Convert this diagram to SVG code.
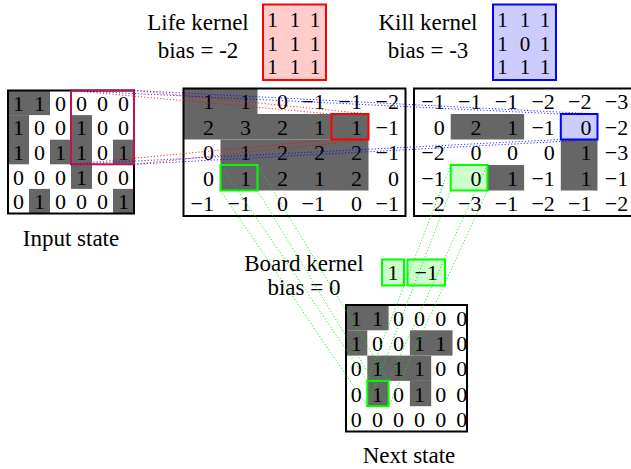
<svg xmlns="http://www.w3.org/2000/svg" width="631" height="469" viewBox="0 0 631 469" font-family="'Liberation Serif', 'DejaVu Serif', 'Times New Roman', serif">
<style>
text{font-family:'Liberation Serif','DejaVu Serif','Times New Roman',serif;fill:#000}
.lbl{font-size:23px;text-anchor:middle}
.d{font-size:22px}
.c{text-anchor:middle}
.e{text-anchor:end}
.k{font-size:21px;text-anchor:middle}
.g{fill:#666}
.box{fill:none;stroke:#000;stroke-width:2}
.red{stroke:#f00;stroke-width:2;fill:none}
.blue{stroke:#00f;stroke-width:2;fill:none}
.grn{stroke:#0f0;stroke-width:2;fill:none}
.lr{stroke:#f00;stroke-width:1;stroke-dasharray:1.2 2;opacity:.8}
.lb{stroke:#00f;stroke-width:1;stroke-dasharray:1.2 2;opacity:.8}
.lg{stroke:#0e0;stroke-width:1;stroke-dasharray:1.2 2;opacity:.85}
</style>

<g id="life-kernel">
<text class="lbl" x="198" y="30">Life kernel</text>
<text class="lbl" x="198" y="58">bias = -2</text>
<rect x="263" y="4.5" width="63" height="75.5" fill="#ffcccc" stroke="#f00" stroke-width="2"/>
<text class="k" x="272.5" y="27">1</text><text class="k" x="295" y="27">1</text><text class="k" x="315" y="27">1</text>
<text class="k" x="272.5" y="50.5">1</text><text class="k" x="295" y="50.5">1</text><text class="k" x="315" y="50.5">1</text>
<text class="k" x="272.5" y="74">1</text><text class="k" x="295" y="74">1</text><text class="k" x="315" y="74">1</text>
</g>

<g id="kill-kernel">
<text class="lbl" x="428" y="30">Kill kernel</text>
<text class="lbl" x="428" y="58">bias = -3</text>
<rect x="493" y="4.5" width="63" height="75.5" fill="#ccccff" stroke="#00f" stroke-width="2"/>
<text class="k" x="502.5" y="27">1</text><text class="k" x="525" y="27">1</text><text class="k" x="545" y="27">1</text>
<text class="k" x="502.5" y="50.5">1</text><text class="k" x="525" y="50.5">0</text><text class="k" x="545" y="50.5">1</text>
<text class="k" x="502.5" y="74">1</text><text class="k" x="525" y="74">1</text><text class="k" x="545" y="74">1</text>
</g>

<g id="input-state">
<rect class="g" x="8" y="90.5" width="42" height="24.6"/>
<rect class="g" x="8" y="115.1" width="21" height="49.2"/>
<rect class="g" x="71" y="115.1" width="21" height="73.8"/>
<rect class="g" x="50" y="139.7" width="21" height="24.6"/>
<rect class="g" x="113" y="139.7" width="21" height="24.6"/>
<rect class="g" x="29" y="188.9" width="21" height="24.6"/>
<rect class="g" x="113" y="188.9" width="21" height="24.6"/>
<g class="d c">
<text x="18.5" y="110.8">1</text><text x="39.5" y="110.8">1</text><text x="60.5" y="110.8">0</text><text x="81.5" y="110.8">0</text><text x="102.5" y="110.8">0</text><text x="123.5" y="110.8">0</text>
<text x="18.5" y="135.4">1</text><text x="39.5" y="135.4">0</text><text x="60.5" y="135.4">0</text><text x="81.5" y="135.4">1</text><text x="102.5" y="135.4">0</text><text x="123.5" y="135.4">0</text>
<text x="18.5" y="160">1</text><text x="39.5" y="160">0</text><text x="60.5" y="160">1</text><text x="81.5" y="160">1</text><text x="102.5" y="160">0</text><text x="123.5" y="160">1</text>
<text x="18.5" y="184.6">0</text><text x="39.5" y="184.6">0</text><text x="60.5" y="184.6">0</text><text x="81.5" y="184.6">1</text><text x="102.5" y="184.6">0</text><text x="123.5" y="184.6">0</text>
<text x="18.5" y="209.2">0</text><text x="39.5" y="209.2">1</text><text x="60.5" y="209.2">0</text><text x="81.5" y="209.2">0</text><text x="102.5" y="209.2">0</text><text x="123.5" y="209.2">1</text>
</g>
<rect class="box" x="8" y="90.5" width="126" height="123"/>
<rect x="71" y="90.5" width="63" height="73.8" fill="none" stroke="#c4124c" stroke-width="2"/>
<text class="lbl" x="71" y="246">Input state</text>
</g>

<g id="life-map">
<rect class="g" x="183.5" y="88.5" width="74" height="25.5"/>
<rect class="g" x="183.5" y="114" width="185" height="25.5"/>
<rect class="g" x="220.5" y="139.5" width="148" height="51"/>
<g class="d e">
<text x="214" y="109.25">1</text><text x="251" y="109.25">1</text><text x="288" y="109.25">0</text><text x="325" y="109.25">−1</text><text x="362" y="109.25">−1</text><text x="399" y="109.25">−2</text>
<text x="214" y="134.75">2</text><text x="251" y="134.75">3</text><text x="288" y="134.75">2</text><text x="325" y="134.75">1</text><text x="362" y="134.75">1</text><text x="399" y="134.75">−1</text>
<text x="214" y="160.25">0</text><text x="251" y="160.25">1</text><text x="288" y="160.25">2</text><text x="325" y="160.25">2</text><text x="362" y="160.25">2</text><text x="399" y="160.25">−1</text>
<text x="214" y="185.75">0</text><text x="251" y="185.75">1</text><text x="288" y="185.75">2</text><text x="325" y="185.75">1</text><text x="362" y="185.75">2</text><text x="399" y="185.75">0</text>
<text x="214" y="211.25">−1</text><text x="251" y="211.25">−1</text><text x="288" y="211.25">0</text><text x="325" y="211.25">−1</text><text x="362" y="211.25">0</text><text x="399" y="211.25">−1</text>
</g>
<rect class="box" x="183.5" y="88.5" width="222" height="127.5"/>
<rect class="red" x="331.5" y="114" width="37" height="25.5"/>
<rect class="grn" x="220.5" y="165" width="37" height="25.5"/>
</g>

<g id="kill-map">
<rect class="g" x="450.7" y="114" width="73.4" height="25.5"/>
<rect class="g" x="560.8" y="139.5" width="36.7" height="51"/>
<rect class="g" x="487.4" y="165" width="36.7" height="25.5"/>
<rect x="560.8" y="114" width="36.7" height="25.5" fill="#ccccff"/>
<rect x="450.7" y="165" width="36.7" height="25.5" fill="#ccffcc"/>
<g class="d e">
<text x="444.7" y="109.25">−1</text><text x="481.4" y="109.25">−1</text><text x="518.1" y="109.25">−1</text><text x="554.8" y="109.25">−2</text><text x="591.5" y="109.25">−2</text><text x="628.2" y="109.25">−3</text>
<text x="444.7" y="134.75">0</text><text x="481.4" y="134.75">2</text><text x="518.1" y="134.75">1</text><text x="554.8" y="134.75">−1</text><text x="591.5" y="134.75">0</text><text x="628.2" y="134.75">−2</text>
<text x="444.7" y="160.25">−2</text><text x="481.4" y="160.25">0</text><text x="518.1" y="160.25">0</text><text x="554.8" y="160.25">0</text><text x="591.5" y="160.25">1</text><text x="628.2" y="160.25">−3</text>
<text x="444.7" y="185.75">−1</text><text x="481.4" y="185.75">0</text><text x="518.1" y="185.75">1</text><text x="554.8" y="185.75">−1</text><text x="591.5" y="185.75">1</text><text x="628.2" y="185.75">−1</text>
<text x="444.7" y="211.25">−2</text><text x="481.4" y="211.25">−3</text><text x="518.1" y="211.25">−1</text><text x="554.8" y="211.25">−2</text><text x="591.5" y="211.25">−1</text><text x="628.2" y="211.25">−2</text>
</g>
<rect class="box" x="414" y="88.5" width="222" height="127.5"/>
<rect class="blue" x="560.8" y="114" width="36.7" height="25.5"/>
<rect class="grn" x="450.7" y="165" width="36.7" height="25.5"/>
</g>

<g id="board-kernel">
<text class="lbl" x="304" y="270.5">Board kernel</text>
<text class="lbl" x="304" y="295">bias = 0</text>
<rect x="382" y="259.5" width="22" height="26" fill="#ccffcc" stroke="#0f0" stroke-width="2"/>
<rect x="407.5" y="259.5" width="37.5" height="26" fill="#ccffcc" stroke="#0f0" stroke-width="2"/>
<text class="d c" x="393" y="280">1</text>
<text class="d c" x="426.2" y="280">−1</text>
</g>

<g id="next-state">
<rect class="g" x="346" y="305" width="42.6" height="25.3"/>
<rect class="g" x="346" y="330.3" width="21.3" height="25.3"/>
<rect class="g" x="409.9" y="330.3" width="42.6" height="25.3"/>
<rect class="g" x="367.3" y="355.6" width="63.9" height="25.3"/>
<rect class="g" x="367.3" y="380.9" width="21.3" height="25.3"/>
<rect class="g" x="409.9" y="380.9" width="21.3" height="25.3"/>
<g class="d c">
<text x="356.3" y="325.65">1</text><text x="377.4" y="325.65">1</text><text x="398.5" y="325.65">0</text><text x="419.6" y="325.65">0</text><text x="440.7" y="325.65">0</text><text x="461.8" y="325.65">0</text>
<text x="356.3" y="350.95">1</text><text x="377.4" y="350.95">0</text><text x="398.5" y="350.95">0</text><text x="419.6" y="350.95">1</text><text x="440.7" y="350.95">1</text><text x="461.8" y="350.95">0</text>
<text x="356.3" y="376.25">0</text><text x="377.4" y="376.25">1</text><text x="398.5" y="376.25">1</text><text x="419.6" y="376.25">1</text><text x="440.7" y="376.25">0</text><text x="461.8" y="376.25">0</text>
<text x="356.3" y="401.55">0</text><text x="377.4" y="401.55">1</text><text x="398.5" y="401.55">0</text><text x="419.6" y="401.55">1</text><text x="440.7" y="401.55">0</text><text x="461.8" y="401.55">0</text>
<text x="356.3" y="426.85">0</text><text x="377.4" y="426.85">0</text><text x="398.5" y="426.85">0</text><text x="419.6" y="426.85">0</text><text x="440.7" y="426.85">0</text><text x="461.8" y="426.85">0</text>
</g>
<rect class="box" x="346" y="305" width="121" height="126.5"/>
<rect class="grn" x="367.3" y="380.9" width="21.3" height="25.3"/>
<text class="lbl" x="409" y="463">Next state</text>
</g>

<g id="connectors">
<line class="lr" x1="71" y1="90.5" x2="331.5" y2="114"/>
<line class="lr" x1="134" y1="90.5" x2="368.5" y2="114"/>
<line class="lr" x1="71" y1="164.3" x2="331.5" y2="139.5"/>
<line class="lr" x1="134" y1="164.3" x2="368.5" y2="139.5"/>
<line class="lb" x1="71" y1="90.5" x2="560.8" y2="114"/>
<line class="lb" x1="134" y1="90.5" x2="597.5" y2="114"/>
<line class="lb" x1="71" y1="164.3" x2="560.8" y2="139.5"/>
<line class="lb" x1="134" y1="164.3" x2="597.5" y2="139.5"/>
<line class="lg" x1="220.5" y1="165" x2="367.3" y2="380.9"/>
<line class="lg" x1="257.5" y1="165" x2="388.6" y2="380.9"/>
<line class="lg" x1="220.5" y1="190.5" x2="367.3" y2="406.2"/>
<line class="lg" x1="257.5" y1="190.5" x2="388.6" y2="406.2"/>
<line class="lg" x1="450.7" y1="165" x2="367.3" y2="380.9"/>
<line class="lg" x1="487.4" y1="165" x2="388.6" y2="380.9"/>
<line class="lg" x1="450.7" y1="190.5" x2="367.3" y2="406.2"/>
<line class="lg" x1="487.4" y1="190.5" x2="388.6" y2="406.2"/>
</g>
</svg>
